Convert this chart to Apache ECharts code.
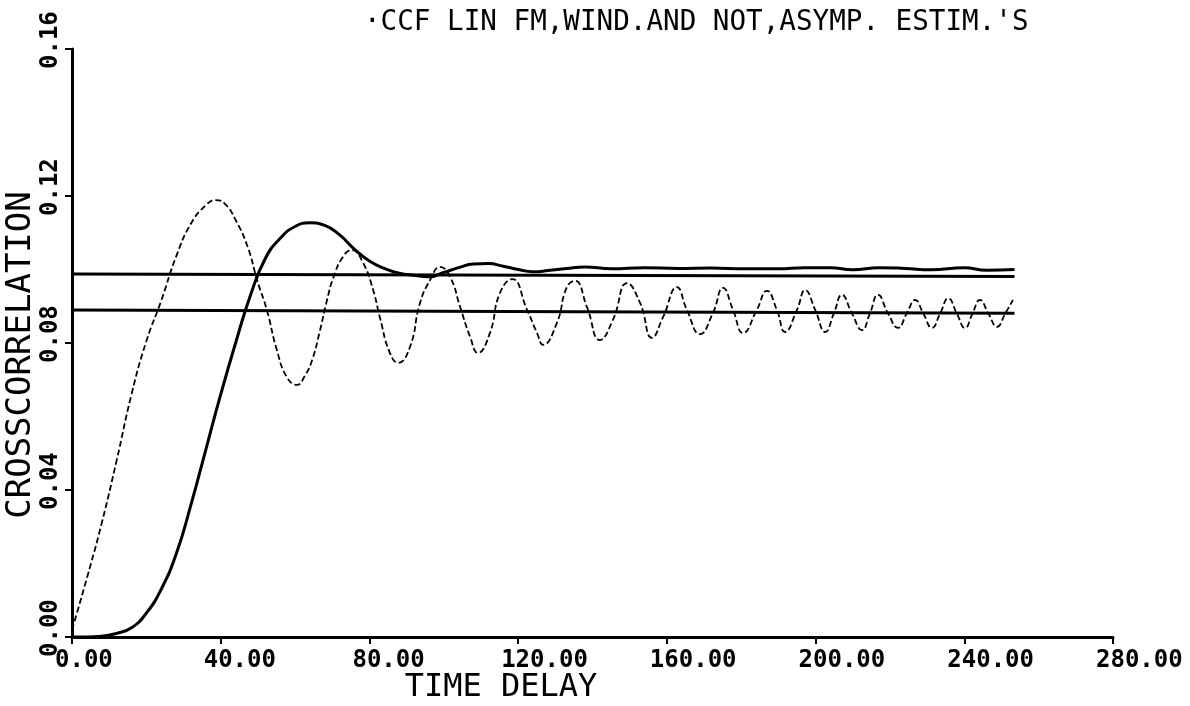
<!DOCTYPE html>
<html>
<head>
<meta charset="utf-8">
<title>CCF LIN FM</title>
<script src="https://cdn.jsdelivr.net/npm/echarts@6/dist/echarts.min.js"></script>
<style>
  html, body { margin: 0; padding: 0; background: #fff; }
  #chart { width: 1190px; height: 706px; }
</style>
</head>
<body>
<div id="chart"></div>
<script>
// axis ticks
const xTicks = [0, 40, 80, 120, 160, 200, 240, 280]
const yTicks = [0, 0.04, 0.08, 0.12, 0.16]

// windowed estimate (solid, smooth)
const windX = [0, 4, 8, 12, 16, 20, 24, 28, 32, 36, 40, 44, 48, 52, 56, 60, 64, 68, 72, 76, 80, 84, 88, 92, 96, 100, 104, 108, 112, 116, 120, 124, 128, 133, 138, 145, 154, 163, 172, 181, 190, 197, 204, 210, 217, 224, 231, 240, 246, 253.5]
const windY = [0, 0, 0.0002, 0.001, 0.0025, 0.0065, 0.013, 0.0225, 0.036, 0.051, 0.066, 0.08, 0.093, 0.103, 0.1085, 0.1117, 0.1127, 0.112, 0.1094, 0.1055, 0.1023, 0.1003, 0.099, 0.0984, 0.098, 0.0992, 0.1005, 0.1015, 0.1016, 0.1009, 0.1, 0.0994, 0.0997, 0.1003, 0.1007, 0.1002, 0.1005, 0.1003, 0.1004, 0.1002, 0.1002, 0.1005, 0.1005, 0.0999, 0.1005, 0.1003, 0.0999, 0.1005, 0.0998, 0.1]

// unwindowed estimate (dotted, oscillating)
const rawX = [0, 4, 8, 12, 16, 20, 24, 28, 32, 36, 38.5, 41, 44, 47.3, 49.8, 52.4, 55.1, 57.8, 60.5, 62.6, 64.6, 66.6, 68.6, 70.2, 72.9, 75.3, 78.3, 81, 82.8, 85.5, 87.7, 90.9, 93.6, 96.3, 99, 101.7, 104.4, 107.1, 109.2, 112.4, 115.1, 118.4, 122.4, 125.1, 126.7, 130.4, 133.1, 135.3, 138.5, 142, 145.5, 149.3, 152.8, 156, 159, 162.7, 165.4, 168.9, 172.4, 175.1, 177.8, 180.5, 184.2, 186.9, 189.6, 191.8, 195, 197.2, 199.9, 202.6, 204.9, 207.1, 209.8, 212.5, 214.6, 216.8, 219.5, 222.2, 224.5, 226.8, 229, 231.3, 233.5, 235.7, 238, 240.2, 242.2, 244.2, 246.5, 248.8, 251, 253.1]
const rawY = [0.002, 0.016, 0.031, 0.048, 0.066, 0.0805, 0.0915, 0.1035, 0.1125, 0.1175, 0.1189, 0.118, 0.1135, 0.106, 0.0971, 0.089, 0.0781, 0.0707, 0.0686, 0.071, 0.0754, 0.083, 0.0917, 0.0975, 0.1035, 0.1053, 0.1018, 0.0944, 0.087, 0.0773, 0.0746, 0.0789, 0.0909, 0.0971, 0.1007, 0.098, 0.0898, 0.0816, 0.0773, 0.0827, 0.0936, 0.0974, 0.089, 0.0827, 0.0795, 0.0854, 0.0952, 0.0969, 0.0898, 0.0808, 0.0863, 0.0963, 0.0909, 0.0814, 0.0871, 0.0952, 0.089, 0.0824, 0.0882, 0.095, 0.089, 0.0827, 0.089, 0.0942, 0.089, 0.083, 0.089, 0.0944, 0.089, 0.083, 0.088, 0.0931, 0.088, 0.0835, 0.088, 0.0931, 0.088, 0.0841, 0.088, 0.0917, 0.088, 0.0841, 0.088, 0.0922, 0.088, 0.0841, 0.088, 0.0917, 0.088, 0.0844, 0.088, 0.0917]

// asymptotic levels
const asympX = [0, 253.5]
const asympUpper = [0.0988, 0.0981]
const asympLower = [0.089, 0.0881]

const zip = (xs, ys) => xs.map((x, i) => [x, ys[i]])

const chart = echarts.init(document.getElementById('chart'))
const mono = 'DejaVu Sans Mono'
const ink = '#000'

const lineSeries = (data, width, type, smooth) => ({
  type: 'line',
  data,
  showSymbol: false,
  smooth,
  lineStyle: { color: ink, width, type },
  silent: true,
})

chart.setOption({
  animation: false,
  backgroundColor: '#fff',
  title: {
    text: "·CCF LIN FM,WIND.AND NOT,ASYMP. ESTIM.'S",
    left: 364,
    top: 9,
    padding: 0,
    textStyle: { fontFamily: mono, fontSize: 27.6, fontWeight: 'normal', color: ink },
  },
  grid: { left: 72, right: 77, top: 49, bottom: 69, outerBoundsMode: 'none' },
  xAxis: {
    type: 'value',
    min: xTicks[0],
    max: xTicks[xTicks.length - 1],
    interval: 40,
    name: 'TIME DELAY',
    nameLocation: 'middle',
    nameGap: 35,
    nameMoveOverlap: false,
    nameTextStyle: { fontFamily: mono, fontSize: 32, color: ink, padding: [0, 183, 0, 0] },
    axisLine: { lineStyle: { color: ink, width: 3 } },
    axisTick: { show: true, length: 7, lineStyle: { color: ink, width: 2 } },
    axisLabel: {
      interval: 0,
      margin: 12,
      align: 'left',
      padding: [0, 0, 0, -17],
      fontFamily: mono,
      fontSize: 24,
      fontWeight: 'bold',
      color: ink,
      formatter: (v) => v.toFixed(2),
    },
    splitLine: { show: false },
  },
  yAxis: {
    type: 'value',
    min: yTicks[0],
    max: yTicks[yTicks.length - 1],
    interval: 0.04,
    name: 'CROSSCORRELATION',
    nameLocation: 'middle',
    nameGap: 34,
    nameMoveOverlap: false,
    nameTextStyle: { fontFamily: mono, fontSize: 34, color: ink, padding: [0, 24, 0, 0] },
    axisLine: { show: true, lineStyle: { color: ink, width: 3 } },
    axisTick: { show: true, length: 7, lineStyle: { color: ink, width: 2 } },
    axisLabel: {
      interval: 0,
      rotate: 90,
      margin: 9,
      align: 'left',
      verticalAlign: 'bottom',
      padding: [0, 0, 0, -20],
      fontFamily: mono,
      fontSize: 24,
      fontWeight: 'bold',
      color: ink,
      formatter: (v) => v.toFixed(2),
    },
    splitLine: { show: false },
  },
  series: [
    lineSeries(zip(asympX, asympUpper), 3, 'solid', false),
    lineSeries(zip(asympX, asympLower), 3, 'solid', false),
    lineSeries(zip(rawX, rawY), 1.8, [6, 3], 0.5),
    lineSeries(zip(windX, windY), 3, 'solid', 0.5),
  ],
})
</script>
</body>
</html>
